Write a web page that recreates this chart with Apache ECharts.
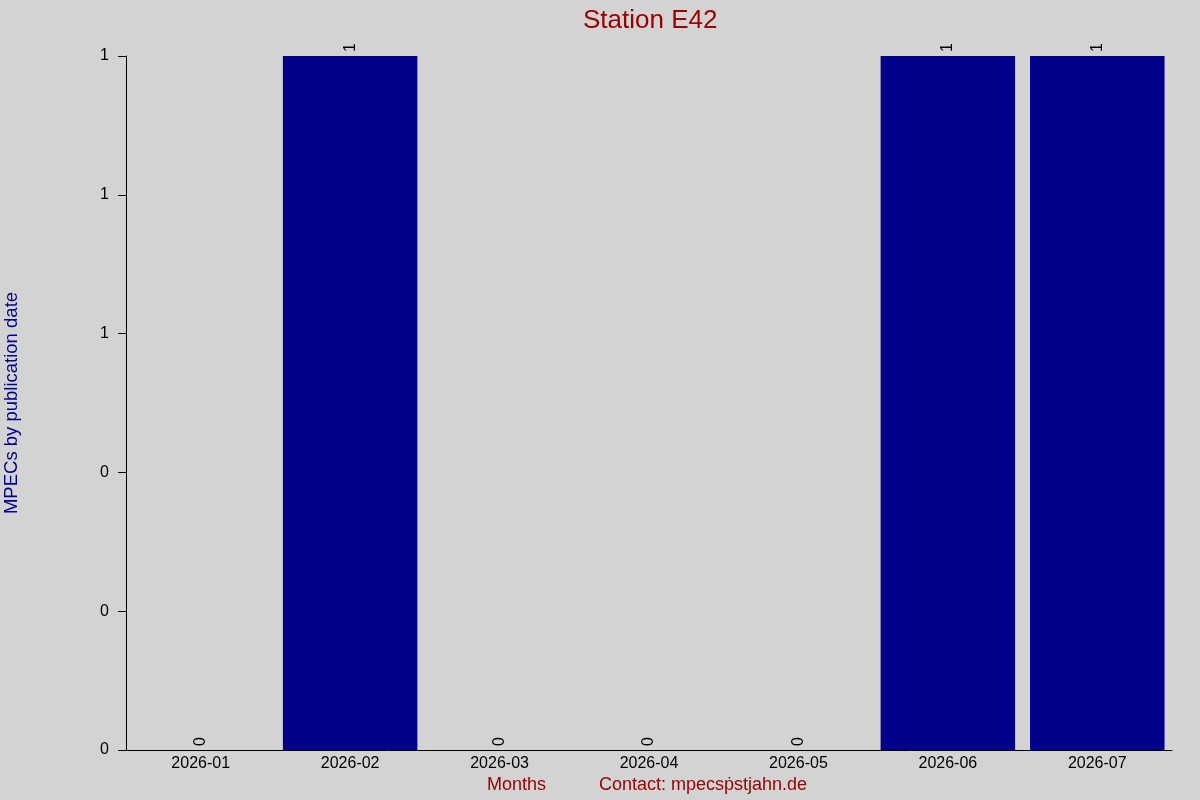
<!DOCTYPE html>
<html>
<head>
<meta charset="utf-8">
<title>Station E42</title>
<script src="https://cdn.jsdelivr.net/npm/echarts@6/dist/echarts.min.js"></script>
<style>
  html, body { margin: 0; padding: 0; background: #d3d3d3; }
  #chart { width: 1200px; height: 800px; }
</style>
</head>
<body>
<div id="chart"></div>
<script>
// data
const months = ['2026-01', '2026-02', '2026-03', '2026-04', '2026-05', '2026-06', '2026-07']
const mpecCounts = [0, 1, 0, 0, 0, 1, 1]
const yTicks = { min: 0, max: 1, interval: 0.2 }

const font = '"Liberation Sans", Arial, sans-serif'
const darkRed = '#990000'

let myChart = echarts.init(document.getElementById('chart'))

let option = {
  backgroundColor: '#d3d3d3',
  animation: false,
  title: {
    text: 'Station E42',
    left: 578,
    top: 3,
    textStyle: { color: darkRed, fontSize: 26, fontWeight: 'normal', fontFamily: font },
  },
  grid: { left: 126, right: 28, top: 56, bottom: 50, containLabel: false, outerBoundsMode: 'none' },
  xAxis: {
    type: 'category',
    data: months,
    axisLine: { lineStyle: { color: '#000', width: 1 } },
    axisTick: { show: false },
    axisLabel: { color: '#000', fontSize: 16, fontFamily: font, margin: 6 },
  },
  yAxis: {
    type: 'value',
    min: yTicks.min,
    max: yTicks.max,
    interval: yTicks.interval,
    name: 'MPECs by publication date',
    nameLocation: 'middle',
    nameGap: 105,
    nameTextStyle: { color: '#00008b', fontSize: 18.5, fontFamily: font },
    axisLine: { show: true, lineStyle: { color: '#000', width: 1 } },
    axisTick: { show: true, length: 8, lineStyle: { color: '#000' } },
    splitLine: { show: false },
    axisLabel: {
      color: '#000',
      fontSize: 16,
      fontFamily: font,
      margin: 17,
      formatter: (v) => String(Math.round(v)),
    },
  },
  graphic: [
    {
      type: 'text',
      left: 487,
      top: 776,
      style: { text: 'Months', fill: darkRed, fontSize: 18, fontFamily: font },
    },
    {
      type: 'text',
      left: 599,
      top: 776,
      style: { text: 'Contact: mpecs\u1e57stjahn.de', fill: darkRed, fontSize: 18, fontFamily: font },
    },
  ],
  series: [
    {
      type: 'bar',
      data: mpecCounts,
      barCategoryGap: '10%',
      itemStyle: { color: '#00008b' },
      label: {
        show: true,
        position: 'top',
        rotate: 90,
        align: 'left',
        verticalAlign: 'middle',
        distance: 4,
        color: '#000',
        fontSize: 16,
        fontFamily: font,
      },
    },
  ],
}
myChart.setOption(option)
</script>
</body>
</html>
